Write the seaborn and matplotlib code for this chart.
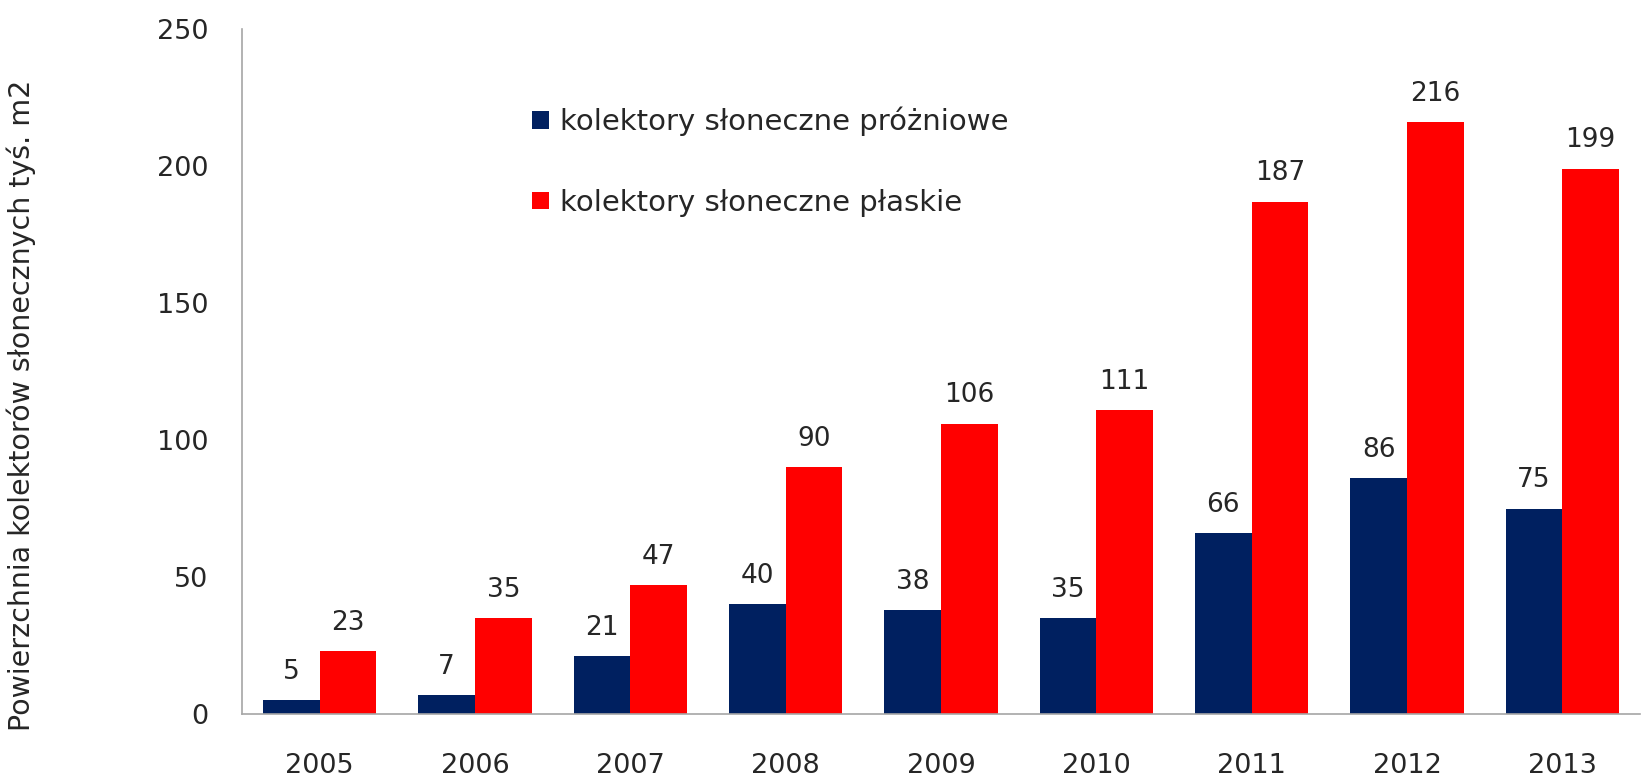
import pandas as pd
import matplotlib.pyplot as plt
import seaborn as sns

years = ['2005', '2006', '2007', '2008', '2009', '2010', '2011', '2012', '2013']
prozniowe = [5, 7, 21, 40, 38, 35, 66, 86, 75]
plaskie = [23, 35, 47, 90, 106, 111, 187, 216, 199]
series = ['kolektory słoneczne próżniowe', 'kolektory słoneczne płaskie']
colors = ['#002060', '#FF0000']

df = pd.DataFrame({
    'rok': years * 2,
    'wartosc': prozniowe + plaskie,
    'typ': [series[0]] * len(years) + [series[1]] * len(years),
})

sns.set_style('white')
plt.rcParams['font.family'] = ['DejaVu Sans']

fig = plt.figure(figsize=(16.43, 7.79), dpi=100)
ax = fig.add_axes([242 / 1643, 1 - 714 / 779, (1640 - 242) / 1643, (714 - 29) / 779])

sns.barplot(data=df, x='rok', y='wartosc', hue='typ', palette=colors,
            width=0.73, saturation=1, linewidth=0, ax=ax, legend=True)

for cont in ax.containers:
    ax.bar_label(cont, padding=11, fontsize=19)

ax.set_ylim(0, 250)
ax.set_xlim(-0.5, 8.5)
ax.set_yticks([0, 50, 100, 150, 200, 250])
ax.tick_params(axis='both', length=0, labelsize=19.5)
ax.tick_params(axis='y', pad=24)
ax.tick_params(axis='x', pad=28)
ax.set_xlabel('')
ax.set_ylabel('Powierzchnia kolektorów słonecznych tyś. m2', fontsize=20.5)
ax.yaxis.set_label_coords(-0.147, 0.45)

for s in ['top', 'right']:
    ax.spines[s].set_visible(False)
for s in ['left', 'bottom']:
    ax.spines[s].set_color('#a6a6a6')
    ax.spines[s].set_linewidth(1.2)

leg = ax.legend(loc='upper left', bbox_to_anchor=(0.189, 0.925), frameon=False,
                fontsize=21, handlelength=0.55, handleheight=0.55,
                handletextpad=0.4, labelspacing=1.8)

fig.savefig('out.png', dpi=100)
